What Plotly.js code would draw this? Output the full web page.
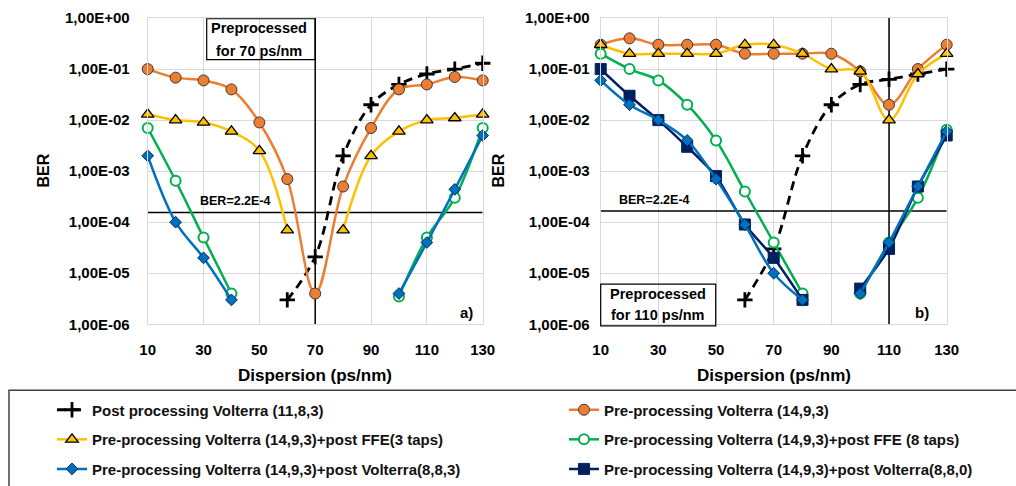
<!DOCTYPE html>
<html><head><meta charset="utf-8">
<script src="https://cdn.plot.ly/plotly-3.0.1.min.js"></script>
<style>html,body{margin:0;padding:0;background:#fff}#chart{width:1016px;height:486px}</style>
</head><body><div id="chart"></div>
<script>
// ---- data ----
const dispersion = [10,20,30,40,50,60,70,80,90,100,110,120,130];
const xTicks = [10,30,50,70,90,110,130];
const yTickVals = [1e-6,1e-5,1e-4,1e-3,1e-2,1e-1,1];
const yTickText = ['1,00E-06','1,00E-05','1,00E-04','1,00E-03','1,00E-02','1,00E-01','1,00E+00'];
const seriesNames = [
  'Post processing Volterra (11,8,3)',
  'Pre-processing Volterra (14,9,3)',
  'Pre-processing Volterra (14,9,3)+post FFE(3 taps)',
  'Pre-processing Volterra (14,9,3)+post FFE (8 taps)',
  'Pre-processing Volterra (14,9,3)+post Volterra(8,8,3)',
  'Pre-processing Volterra (14,9,3)+post Volterra(8,8,0)'
];
// panel a) preprocessed for 70 ps/nm
const a_post = [null,null,null,null,null,3e-6,2.1e-5,2e-3,0.02,0.05,0.08,0.1,0.13];
const a_pre  = [0.1,0.068,0.06,0.04,0.009,7e-4,4e-6,5e-4,7e-3,0.04,0.05,0.07,0.06];
const a_ffe3 = [0.013,0.01,0.009,0.006,0.0025,7e-5,null,7e-5,0.002,0.006,0.01,0.011,0.013];
const a_ffe8 = [0.007,6.5e-4,5e-5,4e-6,null,null,null,null,null,3.5e-6,5e-5,3e-4,0.007];
const a_v883 = [0.002,1e-4,2e-5,3e-6,null,null,null,null,null,4e-6,4e-5,4.4e-4,0.005];
// panel b) preprocessed for 110 ps/nm
const b_post = [null,null,null,null,null,3e-6,3e-5,0.002,0.02,0.05,0.063,0.08,0.1];
const b_pre  = [0.3,0.4,0.3,0.3,0.3,0.2,0.2,0.2,0.2,0.09,0.02,0.1,0.3];
const b_ffe3 = [0.3,0.2,0.2,0.2,0.2,0.3,0.3,0.2,0.1,0.09,0.01,0.08,0.2];
const b_ffe8 = [0.2,0.1,0.06,0.02,0.004,4e-4,4e-5,4e-6,null,4e-6,4e-5,3e-4,0.0065];
const b_v883 = [0.06,0.02,0.01,0.004,7e-4,9e-5,1e-5,3e-6,null,4e-6,4e-5,5e-4,0.006];
const b_v880 = [0.1,0.03,0.01,0.003,8e-4,9e-5,2e-5,3e-6,null,5e-6,3e-5,5e-4,0.005];
// reference lines
const berLimitLabel = 'BER=2.2E-4';
const berLineA = 1.55e-4, berLineB = 1.65e-4;
const preA = 70, preB = 110;

// ---- helpers ----
const W = 1016, H = 486;
const px = v => v / W, py = v => 1 - v / H;
const FONT = 'Liberation Sans, Arial, sans-serif';

const styles = [
  {line:{color:'#000000', width:2.8, dash:'9px,6px', shape:'spline', smoothing:1},
   marker:{symbol:'cross-thin-open', size:11, line:{color:'#000000', width:2.8}}},
  {line:{color:'#ED7D31', width:2.5, shape:'spline', smoothing:1},
   marker:{symbol:'circle', size:11, color:'#ED7D31', line:{color:'#3a3a3a', width:1}}},
  {line:{color:'#FFC000', width:2.5, shape:'spline', smoothing:1},
   marker:{symbol:'triangle-up', size:11, color:'#FFC000', line:{color:'#000000', width:1.3}}},
  {line:{color:'#00B050', width:2.5, shape:'spline', smoothing:1},
   marker:{symbol:'circle', size:10, color:'#ffffff', line:{color:'#00B050', width:2}}},
  {line:{color:'#0070C0', width:2.5, shape:'spline', smoothing:1},
   marker:{symbol:'diamond', size:9, color:'#0070C0', line:{color:'#002a5a', width:1}}},
  {line:{color:'#002060', width:2.5, shape:'spline', smoothing:0.6},
   marker:{symbol:'square', size:11, color:'#002060', line:{color:'#002060', width:1}}}
];
const legendIds = ['legend','legend2','legend3','legend4','legend5','legend6'];

function tr(i, y, xa, ya, showLeg) {
  return Object.assign({
    type:'scatter', mode:'lines+markers', x:dispersion, y:y, name:seriesNames[i],
    xaxis:xa, yaxis:ya, connectgaps:false, cliponaxis:false,
    showlegend:showLeg, legend:legendIds[i], legendgroup:'g'+i, hoverinfo:'x+y'
  }, JSON.parse(JSON.stringify(styles[i])));
}
function refLine(x, y, xa, ya) {
  return {type:'scatter', mode:'lines', x:x, y:y, xaxis:xa, yaxis:ya, showlegend:false,
    hoverinfo:'skip', line:{color:'#000000', width:1.5}};
}

const data = [
  refLine([10,130],[berLineA,berLineA],'x','y'),
  refLine([preA,preA],[1e-6,1],'x','y'),
  refLine([10,130],[berLineB,berLineB],'x2','y2'),
  refLine([preB,preB],[1e-6,1],'x2','y2'),
  tr(0,a_post,'x','y',true), tr(1,a_pre,'x','y',true), tr(2,a_ffe3,'x','y',true),
  tr(3,a_ffe8,'x','y',true), tr(4,a_v883,'x','y',true),
  tr(0,b_post,'x2','y2',false), tr(1,b_pre,'x2','y2',false), tr(2,b_ffe3,'x2','y2',false),
  tr(3,b_ffe8,'x2','y2',false), tr(5,b_v880,'x2','y2',true), tr(4,b_v883,'x2','y2',false)
];

const tickFont = {family:FONT, size:15, color:'#000', weight:'bold'};
function xAx(dom, anchor) {
  return {domain:dom, anchor:anchor, range:[10,130], tickvals:xTicks, ticks:'',
    showgrid:true, gridcolor:'#d9d9d9', gridwidth:1, zeroline:false,
    showline:true, linecolor:'#d9d9d9', linewidth:1, mirror:true,
    tickfont:tickFont, ticklabelstandoff:12, fixedrange:true};
}
function yAx(anchor, standoff) {
  return {domain:[py(329), py(18.3)], anchor:anchor, type:'log', range:[-6,0],
    tickvals:yTickVals, ticktext:yTickText, ticks:'',
    showgrid:true, gridcolor:'#d9d9d9', gridwidth:1, zeroline:false,
    showline:true, linecolor:'#d9d9d9', linewidth:1, mirror:true,
    tickfont:tickFont, ticklabelstandoff:standoff, fixedrange:true};
}
function leg(xp, yp) {
  return {x:px(xp), y:py(yp), xanchor:'left', yanchor:'middle', bgcolor:'rgba(0,0,0,0)',
    borderwidth:0, font:{family:FONT, size:15, color:'#111', weight:'bold'}, itemwidth:30};
}
function ann(text, x, y, size, extra) {
  return Object.assign({text:text, xref:'paper', yref:'paper', x:px(x), y:py(y),
    xanchor:'center', yanchor:'middle', showarrow:false,
    font:{family:FONT, size:size, color:'#000', weight:'bold'}}, extra || {});
}

const layout = {
  width:W, height:H, margin:{l:0,r:0,t:0,b:0}, paper_bgcolor:'#fff', plot_bgcolor:'#fff',
  xaxis:xAx([px(147.7), px(482.7)], 'y'),
  yaxis:yAx('x', 14),
  xaxis2:xAx([px(600.7), px(946.7)], 'y2'),
  yaxis2:yAx('x2', 7),
  legend:leg(52,416), legend2:leg(564,416),
  legend3:leg(52,446), legend4:leg(564,446),
  legend5:leg(52,476), legend6:leg(564,476),
  annotations:[
    ann('Preprocessed', 259, 28.3, 14.5), ann('for 70 ps/nm', 259, 51.7, 14.5),
    ann('Preprocessed', 657.5, 298.3, 14.5), ann('for 110 ps/nm', 657.5, 319.3, 14.5),
    ann('a)', 466, 317, 15), ann('b)', 921.5, 317, 15),
    ann(berLimitLabel, 235.5, 204, 12.5), ann(berLimitLabel, 654, 203, 12.5),
    ann('Dispersion (ps/nm)', 315, 381, 17), ann('Dispersion (ps/nm)', 774, 381, 17),
    ann('BER', 44, 173, 16, {textangle:-90}), ann('BER', 499, 173, 16, {textangle:-90})
  ],
  shapes:[
    {type:'rect', xref:'paper', yref:'paper', x0:px(206.7), x1:px(315.2), y0:py(60.5), y1:py(19),
      line:{color:'#000', width:1.2}},
    {type:'rect', xref:'paper', yref:'paper', x0:px(600.7), x1:px(715.7), y0:py(330.7), y1:py(288.3),
      line:{color:'#000', width:1.2}},
    {type:'rect', xref:'paper', yref:'paper', x0:px(9), x1:px(1030), y0:py(500), y1:py(396),
      line:{color:'#404040', width:1.5}}
  ]
};

Plotly.newPlot('chart', data, layout, {displayModeBar:false, staticPlot:true});
</script></body></html>
